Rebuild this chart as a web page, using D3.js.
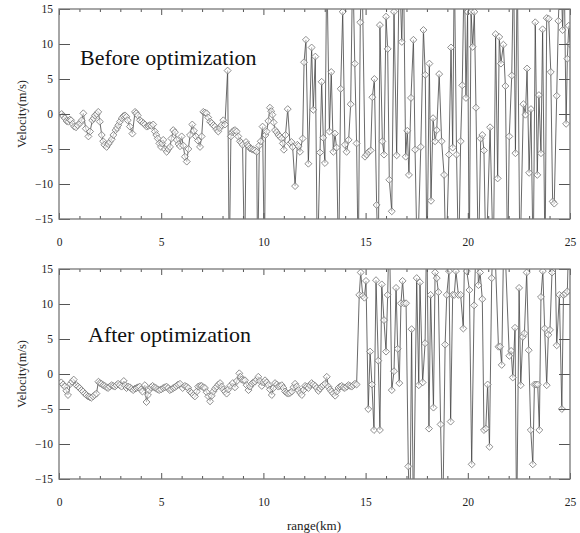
<!DOCTYPE html>
<html><head><meta charset="utf-8">
<script src="https://cdn.jsdelivr.net/npm/d3@7"></script>
<style>body{margin:0;background:#fff}svg{display:block}</style></head>
<body>
<svg id="chart" width="580" height="533"></svg>
<script>
// ---- data ----
const beforeRangeKm = [0.13,0.2,0.29,0.37,0.46,0.53,0.59,0.67,0.75,0.83,0.91,1.03,1.11,1.19,1.31,1.44,1.52,1.63,1.7,1.76,1.85,1.92,2.0,2.09,2.16,2.22,2.33,2.41,2.49,2.58,2.66,2.77,2.84,2.9,2.98,3.07,3.15,3.23,3.3,3.36,3.47,3.59,3.72,3.78,3.85,3.96,4.04,4.13,4.2,4.29,4.37,4.45,4.53,4.61,4.69,4.76,4.83,4.91,4.99,5.05,5.1,5.18,5.27,5.35,5.43,5.5,5.59,5.67,5.76,5.85,5.92,6.0,6.08,6.16,6.25,6.33,6.41,6.52,6.6,6.7,6.8,6.9,6.98,7.06,7.14,7.22,7.3,7.39,7.47,7.55,7.63,7.71,7.79,7.87,7.95,8.04,8.12,8.25,8.33,8.41,8.47,8.53,8.61,8.69,8.77,8.85,8.92,8.98,9.08,9.15,9.21,9.28,9.34,9.42,9.51,9.58,9.67,9.72,9.8,9.87,9.96,10.05,10.1,10.16,10.24,10.32,10.38,10.44,10.5,10.57,10.65,10.73,10.81,10.89,10.95,11.0,11.08,11.19,11.3,11.37,11.43,11.55,11.66,11.72,11.79,11.92,11.99,12.08,12.2,12.36,12.44,12.54,12.64,12.77,12.85,12.93,13.01,13.1,13.23,13.32,13.42,13.5,13.58,13.68,13.78,13.88,13.99,14.07,14.17,14.27,14.37,14.47,14.56,14.64,14.74,14.82,14.97,15.05,15.15,15.25,15.33,15.43,15.54,15.62,15.7,15.82,15.9,16.0,16.08,16.16,16.28,16.39,16.52,16.65,16.77,16.85,16.96,17.04,17.12,17.22,17.34,17.42,17.53,17.7,17.83,17.92,18.0,18.12,18.2,18.3,18.4,18.48,18.6,18.72,18.84,18.93,19.08,19.18,19.26,19.34,19.45,19.55,19.65,19.73,19.83,19.91,19.99,20.07,20.16,20.24,20.32,20.4,20.52,20.63,20.71,20.79,20.89,21.09,21.25,21.36,21.46,21.54,21.62,21.74,21.84,21.95,22.03,22.15,22.24,22.33,22.42,22.55,22.72,22.82,22.9,23.0,23.09,23.2,23.3,23.4,23.48,23.58,23.66,23.78,23.86,23.96,24.06,24.15,24.23,24.35,24.43,24.54,24.64,24.71,24.81,24.87,24.94,25.0];
const beforeVelocity = [0.0,-0.3,-0.6,-1.0,-1.1,-0.8,-0.9,-1.4,-1.8,-1.9,-1.6,-1.3,-0.9,0.1,-2.1,-3.2,-2.5,-0.9,-0.6,-0.2,0.0,0.3,-1.1,-3.0,-3.9,-4.4,-4.7,-4.3,-4.0,-3.6,-3.0,-2.3,-2.0,-1.6,-1.1,-0.6,-0.3,-0.2,-0.4,-0.9,-1.8,-2.8,0.3,0.1,-0.2,-0.9,-1.1,-1.3,-1.5,-1.8,-1.7,-1.6,-1.7,-1.5,-2.5,-3.0,-3.5,-4.2,-4.7,-4.2,-3.7,-5.0,-5.4,-5.0,-4.7,-3.5,-2.3,-2.6,-3.7,-4.3,-4.6,-3.2,-4.5,-6.1,-6.8,-5.0,-3.0,-1.5,-2.4,-3.2,-3.8,-4.7,-3.2,0.3,0.2,0.1,-0.5,-1.1,-1.3,-1.6,-1.8,-2.2,-2.5,-2.0,-1.6,-0.9,-1.5,6.2,-22,-3.2,-2.6,-2.4,-2.3,-2.5,-3.2,-3.9,-4.1,-4.4,-22,-4.0,-4.4,-4.6,-4.9,-5.0,-5.1,-5.2,-5.4,-22,-4.5,-3.9,-1.8,-22,-3.0,-2.5,-1.0,0.9,0.4,-0.1,-1.2,-2.3,-2.6,-3.0,-3.2,-3.5,-4.2,-5.1,-3.0,0.7,-4.2,-4.0,-4.7,-10.3,-4.4,-4.6,-5.4,-3.5,7.4,10.6,-7.1,9.5,0.6,8.2,-22,-5.5,4.6,-3.4,-7.0,22,-2.5,6.0,-5.4,-2.8,-4.8,-22,3.6,14.6,-4.4,-5.4,-3.7,1.4,22,7.2,-4.2,-22,13.1,22,-6.1,-5.8,-5.4,-5.2,2.4,5.0,-13.0,-22,12.7,-3.9,-5.8,13.9,9.3,-9.4,-13.9,14.6,-5.9,22,10.3,22,-6.1,-2.4,-8.7,2.3,10.6,-5.1,-22,-4.7,12.0,5.6,-22,7.2,-12.4,-0.6,-3.9,-2.3,5.7,-3.9,-8.7,-22,-5.8,9.5,-4.8,22,-5.8,-22,-3.9,4.1,22,2.3,14.6,-22,14.6,9.6,14.6,0.9,-22,-3.5,-3.0,-5.2,-22,-1.9,-22,11.4,-9.2,11.0,7.2,9.9,4.0,-22,-3.2,5.5,22,-5.6,22,-22,1.4,-0.1,6.5,-8.4,0.7,-22,13.1,-8.7,2.7,-5.6,12.1,-22,13.7,13.6,6.0,-12.5,-12.8,2.6,13.3,22,12.0,22,-1.4,7.9,12.6,10.0];

const afterRangeKm = [0.11,0.2,0.28,0.36,0.44,0.56,0.64,0.72,0.85,0.93,1.01,1.1,1.18,1.26,1.34,1.42,1.5,1.58,1.67,1.75,1.83,1.93,2.0,2.08,2.16,2.24,2.32,2.4,2.48,2.57,2.65,2.73,2.81,2.89,2.97,3.06,3.17,3.23,3.3,3.38,3.46,3.55,3.63,3.71,3.79,3.87,3.95,4.02,4.08,4.2,4.28,4.35,4.41,4.5,4.58,4.66,4.74,4.82,4.9,5.0,5.1,5.18,5.26,5.34,5.42,5.5,5.59,5.67,5.75,5.83,5.92,6.05,6.16,6.24,6.32,6.41,6.49,6.57,6.65,6.74,6.81,6.9,6.98,7.06,7.14,7.22,7.31,7.39,7.47,7.55,7.63,7.72,7.8,7.88,7.96,8.04,8.12,8.2,8.28,8.37,8.5,8.61,8.7,8.82,8.88,8.94,9.02,9.1,9.18,9.27,9.35,9.43,9.51,9.59,9.67,9.75,9.83,9.92,10.0,10.08,10.16,10.24,10.32,10.41,10.49,10.57,10.65,10.73,10.81,10.9,10.98,11.06,11.14,11.22,11.3,11.39,11.47,11.55,11.63,11.71,11.8,11.88,11.96,12.04,12.12,12.2,12.28,12.36,12.44,12.53,12.61,12.69,12.77,12.85,12.93,13.02,13.1,13.18,13.26,13.34,13.42,13.51,13.59,13.67,13.75,13.83,13.91,13.99,14.08,14.16,14.24,14.32,14.4,14.48,14.56,14.69,14.76,14.86,14.94,15.02,15.13,15.22,15.31,15.41,15.51,15.62,15.7,15.79,15.9,16.0,16.08,16.16,16.28,16.39,16.49,16.57,16.65,16.73,16.81,16.88,16.98,17.09,17.17,17.25,17.34,17.5,17.6,17.66,17.79,17.91,17.99,18.1,18.18,18.32,18.4,18.48,18.56,18.67,18.77,18.89,18.97,19.08,19.16,19.26,19.34,19.42,19.54,19.65,19.78,19.87,19.95,20.08,20.19,20.31,20.44,20.52,20.6,20.71,20.79,20.88,20.97,21.06,21.17,21.28,21.5,21.58,21.66,21.77,22.03,22.12,22.2,22.31,22.39,22.51,22.59,22.69,22.77,22.88,22.98,23.08,23.18,23.26,23.34,23.42,23.5,23.58,23.67,23.76,23.86,23.94,24.02,24.12,24.24,24.35,24.48,24.6,24.68,24.78,24.87,24.96];
const afterVelocity = [-1.2,-1.5,-1.8,-2.4,-3.0,-1.4,-1.1,-0.8,-1.6,-1.8,-2.0,-2.3,-2.5,-2.8,-3.0,-3.2,-3.3,-3.4,-3.2,-3.0,-2.8,-1.1,-1.3,-1.4,-1.6,-1.7,-1.9,-2.0,-1.8,-1.6,-1.7,-1.8,-1.6,-1.4,-1.6,-1.8,-1.0,-1.6,-2.0,-1.8,-1.9,-2.1,-2.3,-2.1,-2.0,-1.9,-1.8,-2.2,-2.5,-1.6,-4.0,-3.0,-2.3,-1.9,-1.7,-1.9,-2.0,-2.2,-2.3,-2.2,-2.0,-1.9,-1.8,-2.0,-2.3,-2.2,-2.0,-1.9,-1.7,-1.5,-1.4,-2.0,-1.7,-1.8,-2.0,-2.5,-2.7,-3.0,-3.2,-2.5,-1.8,-1.7,-1.7,-1.9,-2.0,-2.6,-3.2,-3.9,-3.1,-2.5,-2.1,-1.8,-1.5,-1.3,-1.8,-2.2,-2.5,-2.8,-2.2,-1.7,-1.3,-1.9,-1.0,0.1,-0.4,-0.8,-0.9,-0.9,-1.6,-2.3,-1.8,-1.4,-1.2,-1.1,-0.8,-0.4,-1.0,-1.7,-1.2,-0.9,-1.2,-1.6,-2.2,-3.0,-2.0,-1.3,-1.5,-1.8,-1.7,-1.6,-2.0,-2.5,-2.7,-2.8,-2.7,-2.5,-1.9,-1.4,-1.8,-2.3,-2.7,-3.0,-2.3,-1.7,-1.8,-2.0,-1.6,-1.3,-1.5,-1.7,-2.0,-2.4,-2.1,-1.8,-1.6,-1.4,-0.4,-1.8,-2.2,-2.5,-2.8,-3.1,-2.5,-2.0,-1.8,-1.7,-1.9,-2.0,-1.8,-1.6,-1.7,-1.8,-1.6,-1.4,-1.5,11.3,14.5,11.2,10.9,13.3,-5.0,3.2,-1.5,-8.0,13.4,1.9,-8.0,12.8,7.7,3.2,11.3,22,-2.3,0.4,12.3,3.6,-1.3,10.1,13.3,10.1,10.1,-13.2,-22,6.4,-22,13.7,-1.6,13.1,-1.2,4.4,22,-7.8,11.3,-4.8,14.5,13.7,11.7,-7.2,-22,4.2,11.3,14.7,-6.8,11.3,11.3,14.7,11.3,11.3,6.5,22,14.7,12.0,-12.9,9.8,22,12.7,14.5,10.7,-8.0,-7.8,-1.5,-10.4,13.7,22,3.9,3.9,1.3,22,2.6,3.3,-0.5,6.6,-22,12.3,-1.6,5.3,5.8,14.5,3.4,-8.0,-12.9,-1.5,-1.5,-1.5,-8.0,11.0,14.7,6.5,-1.6,5.6,6.3,14.5,22,4.1,11.3,-5.0,11.3,11.5,11.8,22];

const xTickValues = [0, 5, 10, 15, 20, 25];
const xMinorTickValues = [1,2,3,4,6,7,8,9,11,12,13,14,16,17,18,19,21,22,23,24];
const yTickValues = [-15, -10, -5, 0, 5, 10, 15];
const panelTitles = ["Before optimization", "After optimization"];
const yAxisTitle = "Velocity(m/s)";
const xAxisTitle = "range(km)";

// ---- drawing ----
const svg = d3.select("#chart");
const FONT = "'Liberation Serif','Times New Roman',serif";
const x = d3.scaleLinear().domain([0, 25]).range([59, 570]);

const panels = [
  {top: 9, bottom: 219, rx: beforeRangeKm, v: beforeVelocity, title: panelTitles[0], tx: 80, ty: 65},
  {top: 269, bottom: 479, rx: afterRangeKm, v: afterVelocity, title: panelTitles[1], tx: 88, ty: 342}
];

panels.forEach((p, pi) => {
  const y = d3.scaleLinear().domain([-15, 15]).range([p.bottom, p.top]);
  const g = svg.append("g");
  const clipId = "clip" + pi;
  svg.append("clipPath").attr("id", clipId).append("rect")
    .attr("x", x(0)).attr("y", p.top).attr("width", x(25) - x(0)).attr("height", p.bottom - p.top);

  const pts = p.rx.map((r, i) => [r, p.v[i]]);
  const plot = g.append("g").attr("clip-path", `url(#${clipId})`);
  plot.append("path").datum(pts)
    .attr("fill", "none").attr("stroke", "#444").attr("stroke-width", 0.8)
    .attr("d", d3.line().x(d => x(d[0])).y(d => y(d[1])));
  const sym = d3.symbol().type(d3.symbolSquare).size(24);
  plot.selectAll("path.m").data(pts.filter(d => d[1] >= -16 && d[1] <= 16)).join("path")
    .attr("class", "m")
    .attr("d", sym)
    .attr("transform", d => `translate(${x(d[0])},${y(d[1])}) rotate(45)`)
    .attr("fill", "white").attr("fill-opacity", 0.6)
    .attr("stroke", "#7a7a7a").attr("stroke-width", 0.8);

  // axes
  const styleAxis = sel => {
    sel.select(".domain").remove();
    sel.selectAll(".tick line").attr("stroke", "#555").attr("stroke-width", 1);
    sel.selectAll(".tick text").attr("font-family", FONT).attr("font-size", 11.5).attr("fill", "#222");
  };
  g.append("g").attr("transform", `translate(0,${p.bottom})`)
    .call(d3.axisBottom(x).tickValues(xTickValues).tickSizeInner(-6).tickSizeOuter(0).tickPadding(19).tickFormat(d3.format("d")))
    .call(styleAxis);
  g.append("g").attr("transform", `translate(0,${p.bottom})`)
    .call(d3.axisBottom(x).tickValues(xMinorTickValues).tickSizeInner(-3).tickSizeOuter(0).tickFormat(""))
    .call(styleAxis);
  g.append("g").attr("transform", `translate(0,${p.top})`)
    .call(d3.axisTop(x).tickValues(xTickValues).tickSizeInner(-6).tickSizeOuter(0).tickFormat(""))
    .call(styleAxis);
  g.append("g").attr("transform", `translate(0,${p.top})`)
    .call(d3.axisTop(x).tickValues(xMinorTickValues).tickSizeInner(-3).tickSizeOuter(0).tickFormat(""))
    .call(styleAxis);
  g.append("g").attr("transform", `translate(${x(0)},0)`)
    .call(d3.axisLeft(y).tickValues(yTickValues).tickSizeInner(-11).tickSizeOuter(0).tickPadding(6).tickFormat(d3.format("d")))
    .call(styleAxis);
  g.append("g").attr("transform", `translate(${x(25)},0)`)
    .call(d3.axisRight(y).tickValues(yTickValues).tickSizeInner(-11).tickSizeOuter(0).tickFormat(""))
    .call(styleAxis);

  // frame
  g.append("rect").attr("x", x(0)).attr("y", p.top)
    .attr("width", x(25) - x(0)).attr("height", p.bottom - p.top)
    .attr("fill", "none").attr("stroke", "#777").attr("stroke-width", 1.3);

  // panel title
  g.append("text").attr("x", p.tx).attr("y", p.ty)
    .attr("font-family", FONT).attr("font-size", 22).attr("fill", "#111")
    .text(p.title);

  // y axis title
  g.append("text")
    .attr("transform", `translate(26,${(p.top + p.bottom) / 2}) rotate(-90)`)
    .attr("text-anchor", "middle")
    .attr("font-family", FONT).attr("font-size", 12.5).attr("fill", "#222")
    .text(yAxisTitle);
});

svg.append("text").attr("x", 314).attr("y", 530)
  .attr("text-anchor", "middle")
  .attr("font-family", FONT).attr("font-size", 13).attr("fill", "#222")
  .text(xAxisTitle);
</script>
</body></html>
